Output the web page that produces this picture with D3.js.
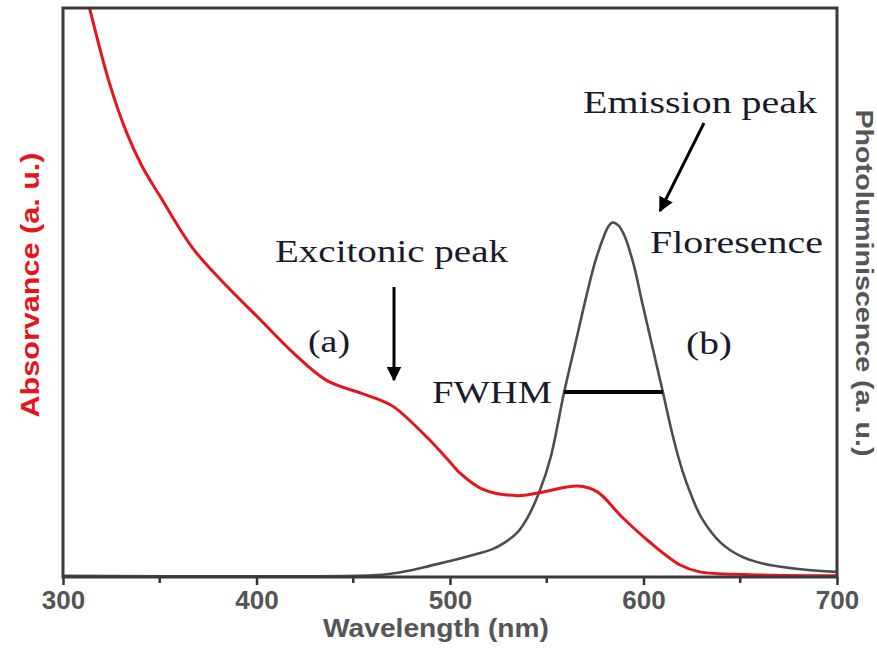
<!DOCTYPE html>
<html>
<head>
<meta charset="utf-8">
<script src="https://cdn.jsdelivr.net/npm/d3@7"></script>
<style>
  body { margin: 0; background: #fff; }
  svg { display: block; }
</style>
</head>
<body>
<svg id="chart" width="877" height="648"></svg>
<script>
// **** Data
const absWavelength = [310, 314, 324, 333, 341, 350, 367, 385, 402, 419, 436, 454, 464, 471, 488, 500, 505, 517, 535, 546, 566, 576, 589, 603, 619, 629, 655, 700];
const absValues = [1.049, 0.996, 0.868, 0.780, 0.721, 0.670, 0.578, 0.510, 0.452, 0.394, 0.346, 0.323, 0.311, 0.299, 0.246, 0.202, 0.183, 0.154, 0.143, 0.148, 0.160, 0.150, 0.105, 0.062, 0.021, 0.009, 0.004, 0.002];

const plWavelength = [300, 460, 470, 480, 490, 500, 510, 522, 528, 535, 540, 546, 552, 559, 565, 570, 575, 580, 582, 584, 587, 590, 595, 599, 605, 610, 615, 620, 625, 630, 640, 650, 660, 680, 700];
const plValues = [0.002, 0.003, 0.006, 0.012, 0.020, 0.028, 0.037, 0.049, 0.060, 0.079, 0.104, 0.148, 0.210, 0.325, 0.413, 0.487, 0.554, 0.603, 0.617, 0.623, 0.618, 0.601, 0.548, 0.487, 0.399, 0.325, 0.250, 0.188, 0.141, 0.104, 0.060, 0.037, 0.025, 0.014, 0.009];

const majorTicks = [300, 400, 500, 600, 700];
const minorTicks = [350, 450, 550, 650];
const fwhmRange = [559, 610];
const fwhmLevel = 0.325;

function draw() {
  const svg = d3.select("#chart");
  const left = 63, right = 837, top = 8, bottom = 577;

  // **** Scales
  const x = d3.scaleLinear().domain([300, 700]).range([left, right]);
  const y = d3.scaleLinear().domain([0, 1]).range([bottom, top]);

  svg.append("clipPath").attr("id", "plot")
    .append("rect")
    .attr("x", left).attr("y", top)
    .attr("width", right - left).attr("height", bottom - top);

  // **** Axis with major + minor ticks
  const axis = svg.append("g")
    .attr("transform", `translate(0,${bottom})`)
    .call(d3.axisBottom(x).tickValues(majorTicks).tickSize(8).tickPadding(6).tickFormat(d3.format("d")));
  axis.select(".domain").remove();
  axis.selectAll(".tick line").attr("stroke", "#333").attr("stroke-width", 2.5);
  axis.selectAll(".tick text")
    .attr("fill", "#555")
    .attr("font-family", "Liberation Sans, Arial, sans-serif")
    .attr("font-weight", "bold")
    .attr("font-size", 26);

  svg.append("g")
    .selectAll("line")
    .data(minorTicks)
    .join("line")
    .attr("x1", d => x(d)).attr("x2", d => x(d))
    .attr("y1", bottom).attr("y2", bottom + 6)
    .attr("stroke", "#333").attr("stroke-width", 2.5);

  // **** Lines
  const plData = plWavelength.map((w, i) => [w, plValues[i]]);
  const absData = absWavelength.map((w, i) => [w, absValues[i]]);
  const line = d3.line().x(d => x(d[0])).y(d => y(d[1])).curve(d3.curveCatmullRom.alpha(0.5));

  svg.append("path")
    .datum(plData)
    .attr("clip-path", "url(#plot)")
    .attr("d", line)
    .attr("fill", "none")
    .attr("stroke", "#4d4d4d")
    .attr("stroke-width", 2.6);

  svg.append("path")
    .datum(absData)
    .attr("clip-path", "url(#plot)")
    .attr("d", line)
    .attr("fill", "none")
    .attr("stroke", "#e8141c")
    .attr("stroke-width", 3);

  // **** Frame
  svg.append("rect")
    .attr("x", left).attr("y", top)
    .attr("width", right - left).attr("height", bottom - top)
    .attr("fill", "none")
    .attr("stroke", "#3a3a3a")
    .attr("stroke-width", 3);

  // **** Axis titles
  svg.append("text")
    .attr("x", 436).attr("y", 637)
    .attr("text-anchor", "middle")
    .attr("font-family", "Liberation Sans, Arial, sans-serif")
    .attr("font-weight", "bold")
    .attr("font-size", 25)
    .attr("fill", "#555")
    .attr("textLength", 226)
    .attr("lengthAdjust", "spacingAndGlyphs")
    .text("Wavelength (nm)");

  svg.append("text")
    .attr("transform", "translate(39,285) rotate(-90)")
    .attr("text-anchor", "middle")
    .attr("font-family", "Liberation Sans, Arial, sans-serif")
    .attr("font-weight", "bold")
    .attr("font-size", 25)
    .attr("fill", "#e8141c")
    .attr("textLength", 265)
    .attr("lengthAdjust", "spacingAndGlyphs")
    .text("Absorvance (a. u.)");

  svg.append("text")
    .attr("transform", "translate(856,283) rotate(90)")
    .attr("text-anchor", "middle")
    .attr("font-family", "Liberation Sans, Arial, sans-serif")
    .attr("font-weight", "bold")
    .attr("font-size", 24)
    .attr("fill", "#555")
    .attr("textLength", 347)
    .attr("lengthAdjust", "spacingAndGlyphs")
    .text("Photoluminiscence (a. u.)");

  // **** Annotations
  const notes = [
    { t: "Emission peak", x: 583, y: 113, w: 234 },
    { t: "Floresence", x: 650, y: 253, w: 173 },
    { t: "Excitonic peak", x: 275, y: 262, w: 233 },
    { t: "(a)", x: 308, y: 352, w: 42 },
    { t: "(b)", x: 686, y: 354, w: 46 },
    { t: "FWHM", x: 432, y: 403, w: 120 }
  ];
  svg.append("g")
    .selectAll("text")
    .data(notes)
    .join("text")
    .attr("x", d => d.x).attr("y", d => d.y)
    .attr("font-family", "Liberation Serif, Times New Roman, serif")
    .attr("font-size", 31)
    .attr("fill", "#1a1a2a")
    .attr("textLength", d => d.w)
    .attr("lengthAdjust", "spacingAndGlyphs")
    .text(d => d.t);

  // FWHM bar
  svg.append("line")
    .attr("x1", x(fwhmRange[0])).attr("x2", x(fwhmRange[1]))
    .attr("y1", y(fwhmLevel)).attr("y2", y(fwhmLevel))
    .attr("stroke", "#000").attr("stroke-width", 4);

  // Arrows
  svg.append("defs").append("marker")
    .attr("id", "head")
    .attr("viewBox", "0 0 10 10")
    .attr("refX", 9).attr("refY", 5)
    .attr("markerWidth", 5).attr("markerHeight", 5)
    .attr("markerUnits", "strokeWidth")
    .attr("orient", "auto")
    .append("path")
    .attr("d", "M0,0 L10,5 L0,10 Z")
    .attr("fill", "#000");

  const arrows = [
    { x1: 394, y1: 287, x2: 394, y2: 380 },
    { x1: 704, y1: 123, x2: 660, y2: 211 }
  ];
  svg.append("g")
    .selectAll("line")
    .data(arrows)
    .join("line")
    .attr("x1", d => d.x1).attr("y1", d => d.y1)
    .attr("x2", d => d.x2).attr("y2", d => d.y2)
    .attr("stroke", "#000")
    .attr("stroke-width", 3)
    .attr("marker-end", "url(#head)");
}
draw();
</script>
</body>
</html>
